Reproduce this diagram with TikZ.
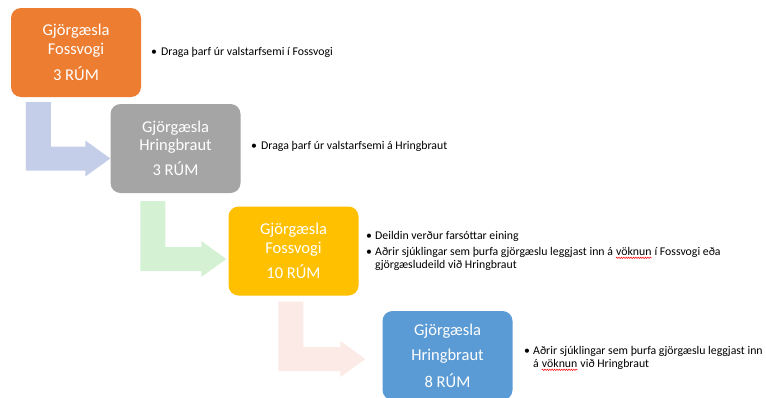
\documentclass[tikz,border=0pt]{standalone}
\usepackage{fontspec}
\setmainfont[Numbers=Lining]{Carlito}
\usetikzlibrary{calc,decorations.pathmorphing}
\definecolor{cOrange}{HTML}{ED7D31}
\definecolor{cGray}{HTML}{A5A5A5}
\definecolor{cGold}{HTML}{FFC000}
\definecolor{cBlue}{HTML}{5B9BD5}
\definecolor{aBlue}{HTML}{C5CEE9}
\definecolor{aGreen}{HTML}{D5F1D4}
\definecolor{aPink}{HTML}{FBEAE6}
\newcommand\bentarr[7]{%
  \fill[#1] let \p1=(#2.south west), \p2=(#3.west) in
    (\x1+#4pt, \y1-#5pt) -- ++(25pt,0pt)
    -- (\x1+#4pt+25pt, \y2-#6pt+12pt)
    -- (\x2-#7pt-25pt, \y2-#6pt+12pt)
    -- (\x2-#7pt-25pt, \y2-#6pt+18pt)
    -- (\x2-#7pt, \y2-#6pt)
    -- (\x2-#7pt-25pt, \y2-#6pt-18pt)
    -- (\x2-#7pt-25pt, \y2-#6pt-12pt)
    -- (\x1+#4pt, \y2-#6pt-12pt) -- cycle;}
\begin{document}
\begin{tikzpicture}[x=1pt,y=-1pt,
  stagebox/.style={rounded corners=10pt, minimum width=130pt, minimum height=89pt,
    inner sep=0pt, text=white, align=center, font=\fontsize{16.5}{18.5}\selectfont},
  bul/.style={anchor=base west, inner sep=0pt, font=\fontsize{11.8}{13}\selectfont},
  spell/.style={red, line width=0.5pt, decorate, decoration={snake, amplitude=0.7pt, segment length=2.4pt}}]
\useasboundingbox (0,0) rectangle (766,397);
\clip (0,0) rectangle (766,397);
\fill[white] (0,0) rectangle (766,397);
% boxes
\node[stagebox, fill=cOrange] (b1) at (76,52.5) {Gjörgæsla\\Fossvogi\\[7.5pt]3 RÚM};
\node[stagebox, fill=cGray] (b2) at (175.5,148.5) {Gjörgæsla\\Hringbraut\\[6.5pt]3 RÚM};
\node[stagebox, fill=cGold] (b3) at (293.5,251) {Gjörgæsla\\Fossvogi\\[6.5pt]10 RÚM};
\node[stagebox, fill=cBlue, font=\fontsize{16.5}{25}\selectfont] (b4) at (447.5,355.5) {Gjörgæsla\\Hringbraut\\[2pt]8 RÚM};
% arrows
\bentarr{aBlue}{b1}{b2}{15}{5}{10}{0}
\bentarr{aGreen}{b2}{b3}{30}{8}{8}{2}
\bentarr{aPink}{b3}{b4}{50}{6}{3.5}{17}
% bullets
\node[bul] (d1) at (151,55.5) {\makebox[10pt][l]{•}Draga þarf úr valstarfsemi í Fossvogi};
\node[bul] (d2) at (251,149.5) {\makebox[10pt][l]{•}Draga þarf úr valstarfsemi á Hringbraut};
\node[bul] (d3) at (366,239.5) {\makebox[9pt][l]{•}Deildin verður farsóttar eining};
\node[bul] (d4a) at (366,255.8) {\makebox[9pt][l]{•}Aðrir sjúklingar sem þurfa gjörgæslu leggjast inn á};
\node[bul] (d4b) at ($(d4a.base east)+(2.7,0)$) {vöknun};
\node[bul] (d4c) at ($(d4b.base east)+(2.7,0)$) {í Fossvogi eða};
\node[bul] (d5) at (375,268.5) {gjörgæsludeild við Hringbraut};
\node[bul] (d6) at (524,354.5) {\makebox[9pt][l]{•}Aðrir sjúklingar sem þurfa gjörgæslu leggjast inn};
\node[bul] (d7a) at (533,367.8) {á};
\node[bul] (d7b) at ($(d7a.base east)+(2.7,0)$) {vöknun};
\node[bul] (d7c) at ($(d7b.base east)+(2.7,0)$) {við Hringbraut};
\draw[spell] ($(d4b.base west)+(0,2)$) -- ($(d4b.base east)+(0,2)$);
\draw[spell] ($(d7b.base west)+(0,2)$) -- ($(d7b.base east)+(0,2)$);
\end{tikzpicture}
\end{document}
